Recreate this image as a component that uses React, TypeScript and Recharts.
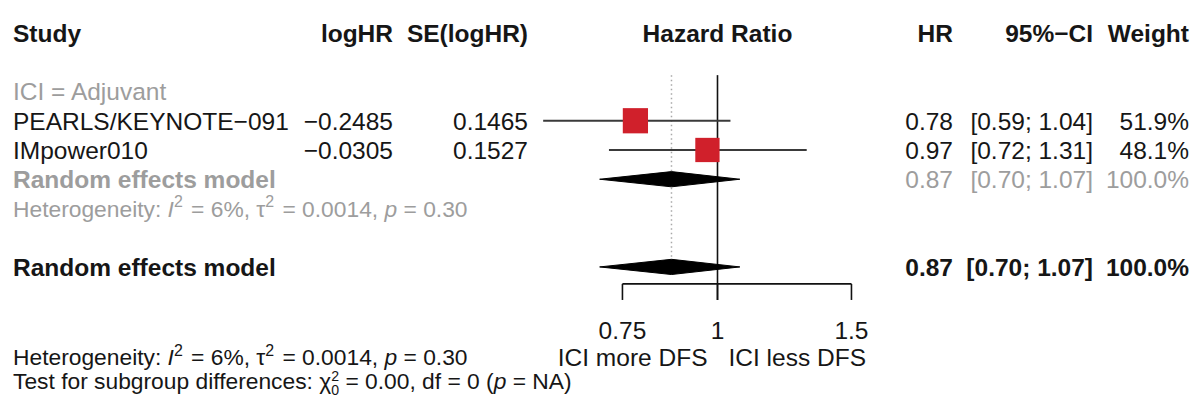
import React from 'react';
import { ComposedChart, XAxis, YAxis, Scatter, ReferenceLine } from 'recharts';

// studies in the subgroup "ICI = Adjuvant"
const studyNames = ['PEARLS/KEYNOTE\u2212091', 'IMpower010'];
const logHR = ['\u22120.2485', '\u22120.0305'];
const seLogHR = ['0.1465', '0.1527'];
const hazardRatio = [0.78, 0.97];
const ciLower = [0.59, 0.72];
const ciUpper = [1.04, 1.31];
const weights = [51.9, 48.1];

// random effects estimate (subgroup and overall are identical here)
const pooledHR = 0.87;
const pooledCI = [0.7, 1.07];
const pooledWeight = 100;

const hetStats = ['6%', '0.0014', '0.30']; // I^2, tau^2, p
const subgroupTest = ['0.00', '0', 'NA']; // chi^2, df, p

const axisTicks = [0.75, 1, 1.5];
const axisLabels = ['ICI more DFS', 'ICI less DFS'];

// ---- layout ----
const W = 1194;
const H = 402;
const FONT = "'Liberation Sans', Arial, Helvetica, sans-serif";
const FS = 24.5;
const FS_SMALL = 22.8;
const INK = '#161616';
const GREY = '#9d9d9d';
const RED = '#d0202b';

// x axis is ln(HR), y axis counts table lines from the header
const X_DOMAIN = [-2.1716, 1.4422];
const Y_DOMAIN = [-1.13, 12.62];
const ROW = {
  header: 0,
  group: 2,
  firstStudy: 3,
  subtotal: 5,
  het: 6,
  overall: 8,
  axis: 8.58,
  tickEnd: 9.13,
  tickLabel: 10.15,
  foot1: 11.08,
  foot2: 11.9,
  refTop: 1.44,
  dotEnd: 7.86,
};
const COL = { label: 13, logHR: 393, se: 528, hr: 953, ci: 1093, weight: 1189 };
const DIAMOND_HALF = 0.26;

const ln = Math.log;
const fmt2 = (v: number) => v.toFixed(2);
const ciText = (lo: number, hi: number) => `[${fmt2(lo)}; ${fmt2(hi)}]`;

const studies = studyNames.map((name, i) => ({
  x: ln(hazardRatio[i]),
  y: ROW.firstStudy + i,
  w: weights[i],
  lo: ln(ciLower[i]),
  hi: ln(ciUpper[i]),
}));

const tableRows = [
  { x: 0, y: ROW.header, kind: 'header' },
  { x: 0, y: ROW.group, kind: 'group', label: 'ICI = Adjuvant' },
  ...studyNames.map((name, i) => ({
    x: 0,
    y: ROW.firstStudy + i,
    kind: 'study',
    label: name,
    cols: [logHR[i], seLogHR[i], fmt2(hazardRatio[i]), ciText(ciLower[i], ciUpper[i]), `${weights[i].toFixed(1)}%`],
  })),
  {
    x: 0,
    y: ROW.subtotal,
    kind: 'subtotal',
    label: 'Random effects model',
    cols: ['', '', fmt2(pooledHR), ciText(pooledCI[0], pooledCI[1]), `${pooledWeight.toFixed(1)}%`],
  },
  { x: 0, y: ROW.het, kind: 'het' },
  {
    x: 0,
    y: ROW.overall,
    kind: 'overall',
    label: 'Random effects model',
    cols: ['', '', fmt2(pooledHR), ciText(pooledCI[0], pooledCI[1]), `${pooledWeight.toFixed(1)}%`],
  },
  { x: 0, y: ROW.foot1, kind: 'footHet' },
  { x: 0, y: ROW.foot2, kind: 'footTest' },
];

const diamond = (row: number) => [
  { x: ln(pooledCI[0]), y: row },
  { x: ln(pooledHR), y: row - DIAMOND_HALF },
  { x: ln(pooledCI[1]), y: row },
  { x: ln(pooledHR), y: row + DIAMOND_HALF },
];

const tickPoints = axisTicks.map((t) => ({ x: ln(t), y: ROW.tickLabel, label: String(t) }));
const sideLabels = [{ x: 0, y: ROW.foot1 }];

const base = (cy: number, fs = FS) => cy + 0.36 * fs;

function Sup({ children, fs }: { children: React.ReactNode; fs: number }) {
  return (
    <>
      <tspan dy={-0.42 * fs} fontSize={fs * 0.7}>
        {children}
      </tspan>
      <tspan dy={0.42 * fs}>{'\u200a'}</tspan>
    </>
  );
}

function HetLine({ y, fill }: { y: number; fill: string }) {
  const fs = FS_SMALL;
  return (
    <text x={COL.label} y={base(y, fs)} fill={fill} fontSize={fs} fontFamily={FONT}>
      Heterogeneity: <tspan fontStyle="italic">I</tspan>
      <Sup fs={fs}>2</Sup>
      {` = ${hetStats[0]}, \u03c4`}
      <Sup fs={fs}>2</Sup>
      {` = ${hetStats[1]}, `}
      <tspan fontStyle="italic">p</tspan>
      {` = ${hetStats[2]}`}
    </text>
  );
}

function TestLine({ y }: { y: number }) {
  const fs = FS_SMALL;
  return (
    <text x={COL.label} y={base(y, fs)} fill={INK} fontSize={fs} fontFamily={FONT}>
      {'Test for subgroup differences: \u03c7'}
      <tspan dy={-0.34 * fs} fontSize={fs * 0.62}>2</tspan>
      <tspan dx={-0.345 * fs} dy={0.6 * fs} fontSize={fs * 0.62}>0</tspan>
      <tspan dy={-0.26 * fs}>{` = ${subgroupTest[0]}, df = ${subgroupTest[1]} (`}</tspan>
      <tspan fontStyle="italic">p</tspan>
      {` = ${subgroupTest[2]})`}
    </text>
  );
}

function TableRow(props: any) {
  const { cx, cy, payload } = props;
  const y = base(cy);
  const t = (x: number, s: React.ReactNode, anchor: string, fill: string, bold = false, key?: string) => (
    <text
      key={key}
      x={x}
      y={y}
      textAnchor={anchor as any}
      fill={fill}
      fontSize={FS}
      fontWeight={bold ? 'bold' : 'normal'}
      fontFamily={FONT}
    >
      {s}
    </text>
  );
  switch (payload.kind) {
    case 'header':
      return (
        <g>
          {t(COL.label, 'Study', 'start', INK, true)}
          {t(COL.logHR, 'logHR', 'end', INK, true)}
          {t(COL.se, 'SE(logHR)', 'end', INK, true)}
          {t(cx, 'Hazard Ratio', 'middle', INK, true)}
          {t(COL.hr, 'HR', 'end', INK, true)}
          {t(COL.ci, '95%\u2212CI', 'end', INK, true)}
          {t(COL.weight, 'Weight', 'end', INK, true)}
        </g>
      );
    case 'group':
      return <g>{t(COL.label, payload.label, 'start', GREY)}</g>;
    case 'het':
      return <HetLine y={cy} fill={GREY} />;
    case 'footHet':
      return <HetLine y={cy} fill={INK} />;
    case 'footTest':
      return <TestLine y={cy} />;
    default: {
      const grey = payload.kind === 'subtotal';
      const bold = payload.kind === 'overall';
      const c = grey ? GREY : INK;
      const xs = [COL.logHR, COL.se, COL.hr, COL.ci, COL.weight];
      return (
        <g>
          {t(COL.label, payload.label, 'start', c, bold || grey)}
          {payload.cols.map((s: string, i: number) => t(xs[i], s, 'end', c, bold, `c${i}`))}
        </g>
      );
    }
  }
}

function StudySquare(props: any) {
  const { cx, cy, payload } = props;
  const s = 3.5 * Math.sqrt(payload.w);
  return <rect x={cx - s / 2} y={cy - s / 2} width={s} height={s} fill={RED} />;
}

function DiamondShape(props: any) {
  const pts = (props.points || []).map((p: any) => `${p.x},${p.y}`).join(' ');
  return <polygon points={pts} fill="#000" stroke="#000" strokeWidth={1} />;
}

const Empty = () => <g />;

function TickLabel(props: any) {
  const { cx, cy, payload } = props;
  return (
    <text x={cx} y={base(cy)} textAnchor="middle" fill={INK} fontSize={FS} fontFamily={FONT}>
      {payload.label}
    </text>
  );
}

function SideLabels(props: any) {
  const { cx, cy } = props;
  return (
    <g fontSize={FS} fontFamily={FONT} fill={INK}>
      <text x={cx - 10} y={base(cy)} textAnchor="end">
        {axisLabels[0]}
      </text>
      <text x={cx + 11} y={base(cy)} textAnchor="start">
        {axisLabels[1]}
      </text>
    </g>
  );
}

export default function App() {
  return (
    <div style={{ position: 'absolute', left: 0, top: 0, width: W, height: H, background: '#fff' }}>
      <ComposedChart width={W} height={H} margin={{ top: 0, right: 0, bottom: 0, left: 0 }}>
        <XAxis type="number" dataKey="x" domain={X_DOMAIN} allowDataOverflow hide />
        <YAxis type="number" dataKey="y" domain={Y_DOMAIN} allowDataOverflow reversed hide />

        {/* null effect line and pooled estimate line */}
        <ReferenceLine
          segment={[{ x: 0, y: ROW.refTop }, { x: 0, y: ROW.tickEnd }]}
          stroke="#111"
          strokeWidth={1.6}
        />
        <ReferenceLine
          segment={[{ x: ln(pooledHR), y: ROW.refTop }, { x: ln(pooledHR), y: ROW.dotEnd }]}
          stroke="#a8a8a8"
          strokeWidth={1.5}
          strokeDasharray="1.5 3"
        />

        <Scatter data={studies} shape={<StudySquare />} isAnimationActive={false} />
        {studies.map((s, i) => (
          <ReferenceLine
            key={`ci${i}`}
            segment={[{ x: s.lo, y: s.y }, { x: s.hi, y: s.y }]}
            stroke="#3a3a3a"
            strokeWidth={2}
          />
        ))}

        <Scatter
          data={diamond(ROW.subtotal)}
          shape={<Empty />}
          line={<DiamondShape />}
          lineType="joint"
          isAnimationActive={false}
        />
        <Scatter
          data={diamond(ROW.overall)}
          shape={<Empty />}
          line={<DiamondShape />}
          lineType="joint"
          isAnimationActive={false}
        />

        {/* x axis bracket */}
        <ReferenceLine
          segment={[{ x: ln(axisTicks[0]), y: ROW.axis }, { x: ln(axisTicks[axisTicks.length - 1]), y: ROW.axis }]}
          stroke="#111"
          strokeWidth={1.6}
        />
        {axisTicks.map((t) => (
          <ReferenceLine
            key={`t${t}`}
            segment={[{ x: ln(t), y: ROW.axis }, { x: ln(t), y: ROW.tickEnd }]}
            stroke="#111"
            strokeWidth={1.6}
          />
        ))}
        <Scatter data={tickPoints} shape={<TickLabel />} isAnimationActive={false} />
        <Scatter data={sideLabels} shape={<SideLabels />} isAnimationActive={false} />

        <Scatter data={tableRows} shape={<TableRow />} isAnimationActive={false} />
      </ComposedChart>
    </div>
  );
}
